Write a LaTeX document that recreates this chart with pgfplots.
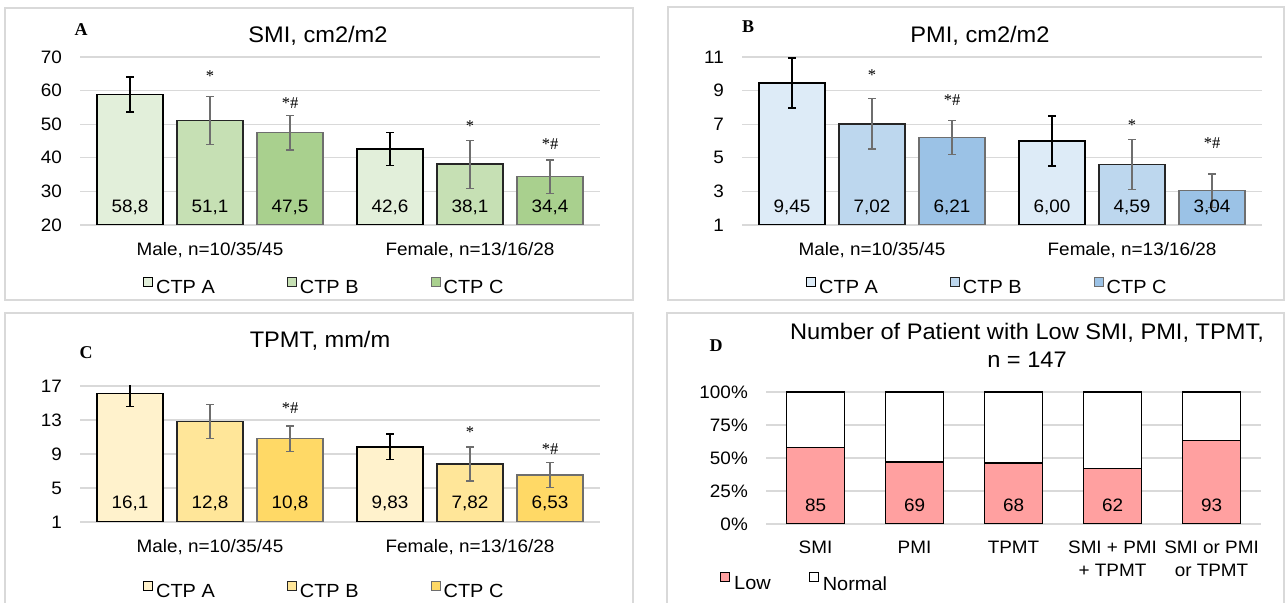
\documentclass[border=0pt]{standalone}
\usepackage{pgfplots}
\pgfplotsset{compat=1.18}
\usepackage{pgfplotstable}
\usepackage{fontspec}
\setmainfont{Liberation Sans}[FakeStretch=1.05]
\newfontfamily\starfont{Liberation Serif}

\definecolor{gridgray}{HTML}{D9D9D9}
\definecolor{gA}{HTML}{E2EFDA}\definecolor{gB}{HTML}{C6E0B4}\definecolor{gC}{HTML}{A9D08E}
\definecolor{bA}{HTML}{DDEBF7}\definecolor{bB}{HTML}{BDD7EE}\definecolor{bC}{HTML}{9BC2E6}
\definecolor{yA}{HTML}{FFF2CC}\definecolor{yB}{HTML}{FFE699}\definecolor{yC}{HTML}{FFD966}
\definecolor{lowred}{HTML}{FFA0A0}
\definecolor{edgeB}{HTML}{262626}
\definecolor{edgeC}{HTML}{6E6E6E}
\definecolor{errgray}{HTML}{6E6E6E}

\newcommand{\bodyfont}{\fontsize{18bp}{23bp}\selectfont}
\newcommand{\legfont}{\fontsize{19bp}{22bp}\selectfont}
\newcommand{\titlefont}{\fontsize{22.5bp}{27bp}\selectfont}
\newcommand{\markfont}{\starfont\fontsize{16.5bp}{19bp}\selectfont}
\newcommand{\panelfont}{\starfont\bfseries\fontsize{18bp}{20bp}\selectfont}

% group means and SD by Child-Turcotte-Pugh class (a, b, c)
\pgfplotstableread{
grp a    ea   b    eb   c    ec
0   58.8 5.2  51.1 7.1  47.5 5.2
1   42.6 4.95 38.1 7.15 34.4 4.95
}\smitab
\pgfplotstableread{
grp a    ea   b    eb   c    ec
0   9.45 1.5  7.02 1.5  6.21 1.0
1   6.00 1.5  4.59 1.5  3.04 1.0
}\pmitab
\pgfplotstableread{
grp a    ea   b    eb   c    ec
0   16.1 1.5  12.8 2.0  10.8 1.5
1   9.83 1.5  7.82 2.0  6.53 1.5
}\tpmttab
% patients with low / normal index, n = 147
\pgfplotstableread{
grp low normal
0   85  62
1   69  78
2   68  79
3   62  85
4   93  54
}\lowtab

\pgfplotsset{
  sqlegend/.style={legend image code/.code={\draw[##1, line width=1bp] (0bp,2bp) rectangle (9bp,11bp);}},
  panel/.style={
    scale only axis, ybar, clip=true,
    axis line style={draw=none}, major tick length=0pt,
    ymajorgrids, grid style={gridgray, line width=1.2bp},
    tick label style={font=\bodyfont},
    /pgf/number format/assume math mode=true,
    yticklabel style={anchor=east, inner sep=0pt, xshift=-18bp},
    xticklabel style={anchor=north, inner sep=0pt, yshift=-17bp, align=center},
    legend cell align=left,
  },
  grp2/.style={
    panel, xmin=-0.5, xmax=1.5, xtick={0,1},
    xticklabels={{Male, n=10/35/45},{Female, n=13/16/28}},
    bar width=0.254, width=520bp,
  },
  threeleg/.style={
    legend style={at={(#1)}, anchor=west, draw=none, fill=none,
      legend columns=3, font=\legfont, inner sep=0pt, nodes={inner sep=0pt},
      /tikz/every odd column/.append style={column sep=3bp},
      /tikz/every even column/.append style={column sep=72bp}},
  },
  errA/.style={error bars/.cd, y dir=both, y explicit,
    error bar style={black, line width=1.5bp},
    error mark options={rotate=90, black, line width=1.5bp, mark size=4bp}},
  errBC/.style={error bars/.cd, y dir=both, y explicit,
    error bar style={errgray, line width=1.2bp},
    error mark options={rotate=90, errgray, line width=1.2bp, mark size=4bp}},
  vallabel/.style 2 args={forget plot, draw=none, fill=none,
    point meta=explicit,
    nodes near coords={\pgfmathprintnumber[#1]{\pgfplotspointmeta}},
    every node near coord/.append style={anchor=center, font=\bodyfont, black},
    bar shift=#2},
}

\begin{document}
\begin{tikzpicture}[x=1bp, y=1bp]
\path[use as bounding box] (0,0) rectangle (1288,603);
\fill[white] (0,0) rectangle (1288,603);
\begin{scope}
\clip (0,0) rectangle (1288,603);
\draw[gridgray, line width=1.2bp] (5,303) rectangle (633,595);
\draw[gridgray, line width=1.2bp] (668,303) rectangle (1284,596);
\draw[gridgray, line width=1.2bp] (5,-5) rectangle (633,290);
\draw[gridgray, line width=1.2bp] (667,-5) rectangle (1284,290);
\end{scope}

% ---------- A: SMI ----------
\begin{axis}[grp2, at={(80bp,378bp)}, anchor=south west, height=168bp,
  ymin=20, ymax=70, ytick={20,30,...,70}, threeleg={0.121,-0.363}]
\addplot[fill=gA, draw=black, line width=1.5bp, bar shift=-0.3077, sqlegend, errA]
  table[x=grp, y=a, y error=ea] {\smitab};
\addplot[fill=gB, draw=edgeB, line width=1.5bp, bar shift=0, sqlegend, errBC]
  table[x=grp, y=b, y error=eb] {\smitab};
\addplot[fill=gC, draw=edgeC, line width=1.5bp, bar shift=0.3077, sqlegend, errBC]
  table[x=grp, y=c, y error=ec] {\smitab};
\legend{CTP A, CTP B, CTP C}
\addplot[vallabel={use comma,fixed,precision=1,assume math mode=true}{-0.3077}] table[x=grp, y expr=25.1, meta=a] {\smitab};
\addplot[vallabel={use comma,fixed,precision=1,assume math mode=true}{0}] table[x=grp, y expr=25.1, meta=b] {\smitab};
\addplot[vallabel={use comma,fixed,precision=1,assume math mode=true}{0.3077}] table[x=grp, y expr=25.1, meta=c] {\smitab};
\node[font=\markfont] at (axis cs:0,64.3) {*};
\node[font=\markfont] at (axis cs:0.3077,56.3) {*\#};
\node[font=\markfont] at (axis cs:1,49.5) {*};
\node[font=\markfont] at (axis cs:1.3077,44.1) {*\#};
\end{axis}

% ---------- B: PMI ----------
\begin{axis}[grp2, at={(742bp,378bp)}, anchor=south west, height=168bp,
  ymin=1, ymax=11, ytick={1,3,...,11}, threeleg={0.123,-0.363}]
\addplot[fill=bA, draw=black, line width=1.5bp, bar shift=-0.3077, sqlegend, errA]
  table[x=grp, y=a, y error=ea] {\pmitab};
\addplot[fill=bB, draw=edgeB, line width=1.5bp, bar shift=0, sqlegend, errBC]
  table[x=grp, y=b, y error=eb] {\pmitab};
\addplot[fill=bC, draw=edgeC, line width=1.5bp, bar shift=0.3077, sqlegend, errBC]
  table[x=grp, y=c, y error=ec] {\pmitab};
\legend{CTP A, CTP B, CTP C}
\addplot[vallabel={use comma,fixed zerofill,precision=2,assume math mode=true}{-0.3077}] table[x=grp, y expr=2.07, meta=a] {\pmitab};
\addplot[vallabel={use comma,fixed zerofill,precision=2,assume math mode=true}{0}] table[x=grp, y expr=2.07, meta=b] {\pmitab};
\addplot[vallabel={use comma,fixed zerofill,precision=2,assume math mode=true}{0.3077}] table[x=grp, y expr=2.07, meta=c] {\pmitab};
\node[font=\markfont] at (axis cs:0,9.95) {*};
\node[font=\markfont] at (axis cs:0.3077,8.44) {*\#};
\node[font=\markfont] at (axis cs:1,6.95) {*};
\node[font=\markfont] at (axis cs:1.3077,5.88) {*\#};
\end{axis}

% ---------- C: TPMT ----------
\begin{axis}[grp2, at={(80bp,81bp)}, anchor=south west, height=136bp,
  ymin=1, ymax=17, ytick={1,5,...,17}, threeleg={0.121,-0.5}]
\addplot[fill=yA, draw=black, line width=1.5bp, bar shift=-0.3077, sqlegend, errA]
  table[x=grp, y=a, y error=ea] {\tpmttab};
\addplot[fill=yB, draw=edgeB, line width=1.5bp, bar shift=0, sqlegend, errBC]
  table[x=grp, y=b, y error=eb] {\tpmttab};
\addplot[fill=yC, draw=edgeC, line width=1.5bp, bar shift=0.3077, sqlegend, errBC]
  table[x=grp, y=c, y error=ec] {\tpmttab};
\legend{CTP A, CTP B, CTP C}
\addplot[vallabel={use comma,fixed,precision=2,assume math mode=true}{-0.3077}] table[x=grp, y expr=3.24, meta=a] {\tpmttab};
\addplot[vallabel={use comma,fixed,precision=2,assume math mode=true}{0}] table[x=grp, y expr=3.24, meta=b] {\tpmttab};
\addplot[vallabel={use comma,fixed,precision=2,assume math mode=true}{0.3077}] table[x=grp, y expr=3.24, meta=c] {\tpmttab};
\node[font=\markfont] at (axis cs:0,17.6) {*};
\node[font=\markfont] at (axis cs:0.3077,14.45) {*\#};
\node[font=\markfont] at (axis cs:1,11.6) {*};
\node[font=\markfont] at (axis cs:1.3077,9.55) {*\#};
\end{axis}

% ---------- D: share of patients with low values ----------
\begin{axis}[panel, at={(766bp,79bp)}, anchor=south west, width=495bp, height=132bp,
  xmin=-0.5, xmax=4.5, xtick={0,...,4},
  xticklabels={SMI, PMI, TPMT, {SMI + PMI\\+ TPMT}, {SMI or PMI\\or TPMT}},
  ymin=0, ymax=147, ytick={0,36.75,73.5,110.25,147},
  yticklabels={0\%,25\%,50\%,75\%,100\%},
  bar width=0.586, reverse legend,
  legend style={at={(-0.093,-0.439)}, anchor=west, draw=none, fill=none,
    legend columns=2, font=\legfont, inner sep=0pt, nodes={inner sep=0pt},
    /tikz/every odd column/.append style={column sep=4bp},
    /tikz/every even column/.append style={column sep=38bp}}]
\addplot[fill=white, draw=black, line width=1.3bp, bar shift=0, sqlegend]
  table[x=grp, y expr=\thisrow{low}+\thisrow{normal}] {\lowtab};
\addplot[fill=lowred, draw=black, line width=1.3bp, bar shift=0, sqlegend]
  table[x=grp, y=low] {\lowtab};
\legend{Normal, Low}
\addplot[vallabel={fixed,precision=0,assume math mode=true}{0}] table[x=grp, y expr=21.2, meta=low] {\lowtab};
\end{axis}

% titles and panel letters
\node[font=\titlefont, anchor=base] at (318,560) {SMI, cm2/m2};
\node[font=\titlefont, anchor=base] at (980,560) {PMI, cm2/m2};
\node[font=\titlefont, anchor=base] at (320,255) {TPMT, mm/m};
\node[font=\titlefont, anchor=base] at (1027,263) {Number of Patient with Low SMI, PMI, TPMT,};
\node[font=\titlefont, anchor=base] at (1027,235) {n = 147};
\node[font=\panelfont] at (81,573) {A};
\node[font=\panelfont] at (748,576) {B};
\node[font=\panelfont] at (86,250) {C};
\node[font=\panelfont] at (716,257) {D};
\end{tikzpicture}
\end{document}
